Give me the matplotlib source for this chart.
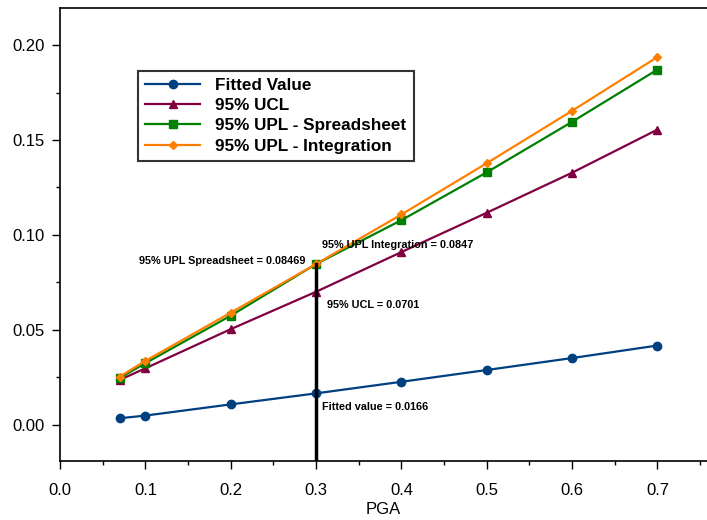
import matplotlib.pyplot as plt
from matplotlib.ticker import MultipleLocator

plt.rcParams['font.family'] = ['Liberation Sans', 'DejaVu Sans']

pga = [0.07, 0.1, 0.2, 0.3, 0.4, 0.5, 0.6, 0.7]
fitted = [0.0035, 0.0049, 0.0108, 0.0166, 0.0227, 0.0289, 0.0352, 0.0418]
ucl = [0.0237, 0.0298, 0.0504, 0.0701, 0.0910, 0.1117, 0.1328, 0.1555]
upl_sheet = [0.0247, 0.0325, 0.0575, 0.08469, 0.1078, 0.1330, 0.1596, 0.1871]
upl_integ = [0.0254, 0.0337, 0.0591, 0.0847, 0.1108, 0.1378, 0.1654, 0.1937]

fig = plt.figure(figsize=(7.07, 5.20), dpi=100)
ax = fig.add_axes([0.0849, 0.1135, 0.9151, 0.8711])

ax.plot(pga, fitted, color='#003f80', marker='o', markersize=6, lw=1.6, label='Fitted Value')
ax.plot(pga, ucl, color='#800040', marker='^', markersize=5.5, lw=1.6, label='95% UCL')
ax.plot(pga, upl_sheet, color='#008000', marker='s', markersize=6, lw=1.6, label='95% UPL - Spreadsheet')
ax.plot(pga, upl_integ, color='#ff8000', marker='D', markersize=4.5, lw=1.6, label='95% UPL - Integration')

# vertical line at PGA = 0.3
ax.plot([0.3, 0.3], [-0.03, upl_integ[3]], color='black', lw=2.5, clip_on=True)

fs = 7.8
ax.text(0.288, 0.0862, '95% UPL Spreadsheet = 0.08469', fontsize=fs, fontweight='bold', ha='right', va='center')
ax.text(0.307, 0.0947, '95% UPL Integration = 0.0847', fontsize=fs, fontweight='bold', ha='left', va='center')
ax.text(0.313, 0.0630, '95% UCL = 0.0701', fontsize=fs, fontweight='bold', ha='left', va='center')
ax.text(0.307, 0.0093, 'Fitted value = 0.0166', fontsize=fs, fontweight='bold', ha='left', va='center')

ax.set_xlim(0, 0.758)
ax.set_ylim(-0.019, 0.2195)
ax.xaxis.set_major_locator(MultipleLocator(0.1))
ax.xaxis.set_minor_locator(MultipleLocator(0.05))
ax.yaxis.set_major_locator(MultipleLocator(0.05))
ax.yaxis.set_minor_locator(MultipleLocator(0.025))
ax.xaxis.set_major_formatter(plt.FormatStrFormatter('%.1f'))
ax.yaxis.set_major_formatter(plt.FormatStrFormatter('%.2f'))
ax.tick_params(which='both', direction='out', labelsize=12, width=1)
ax.tick_params(which='major', length=6)
ax.tick_params(which='minor', length=3)
ax.tick_params(axis='x', which='major', pad=10)
ax.tick_params(axis='y', which='major', pad=5)
ax.spines['right'].set_visible(False)
for s in ['left', 'bottom', 'top']:
    ax.spines[s].set_linewidth(1.2)

ax.set_xlabel('PGA', fontsize=12, labelpad=3)

leg = ax.legend(loc='upper left', bbox_to_anchor=(0.12, 0.862),
                prop={'weight': 'bold', 'size': 12.3}, frameon=True, fancybox=False,
                edgecolor='black', borderpad=0.45, labelspacing=0.3, handlelength=3.2,
                handletextpad=0.9, borderaxespad=0)
leg.get_frame().set_linewidth(1.5)

fig.savefig('out.png', dpi=100)
